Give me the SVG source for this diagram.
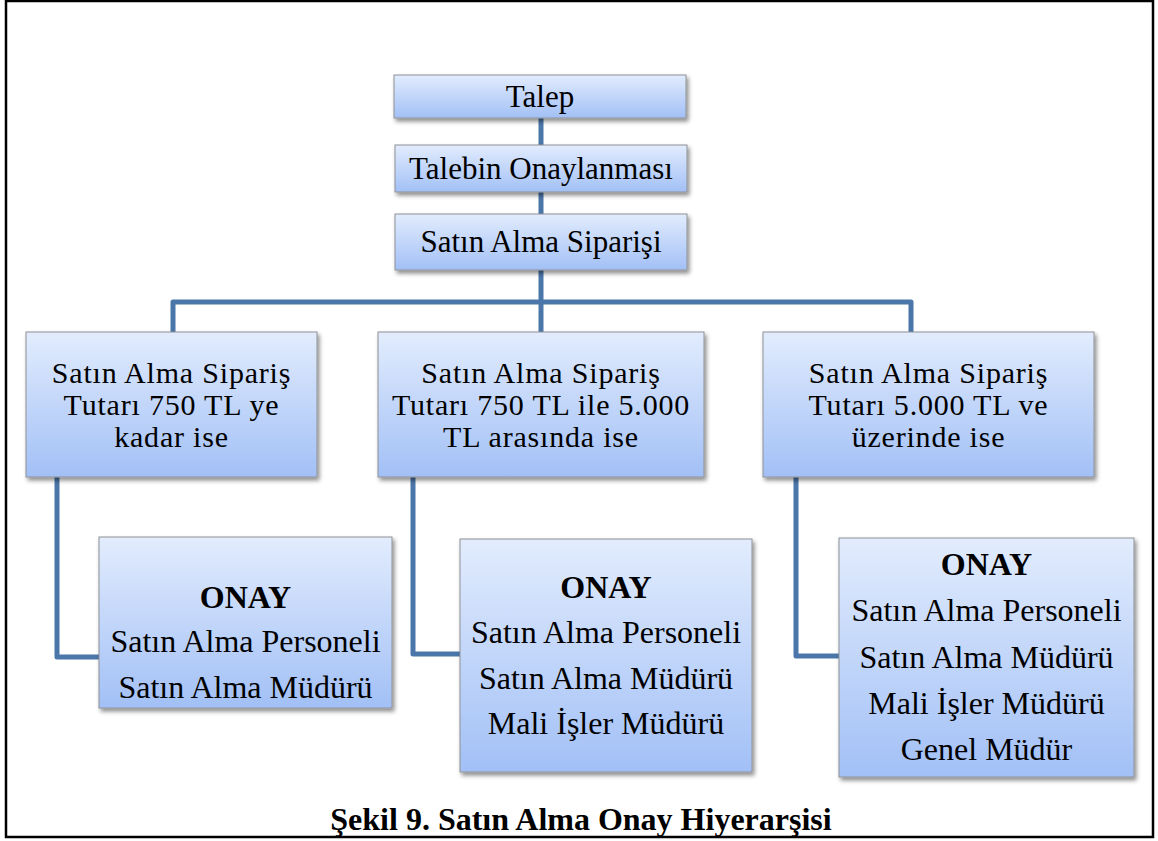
<svg xmlns="http://www.w3.org/2000/svg" width="1158" height="841" viewBox="0 0 1158 841">
  <defs>
    <linearGradient id="boxFill" x1="0" y1="0" x2="0" y2="1">
      <stop offset="0" stop-color="#e2ecfd"/>
      <stop offset="1" stop-color="#a2c0f6"/>
    </linearGradient>
    <filter id="shadow" x="-10%" y="-10%" width="125%" height="130%">
      <feDropShadow dx="2" dy="3" stdDeviation="2" flood-color="#000" flood-opacity="0.45"/>
    </filter>
  </defs>
  <style>
    .box { fill: url(#boxFill); stroke: #8e9196; stroke-width: 1; filter: url(#shadow); }
    text { font-family: 'Liberation Serif', serif; font-size: 31px; fill: #000; text-anchor: middle; }
    .cond { font-size: 30px; letter-spacing: 0.8px; }
    .appr { font-size: 32px; }
    .bold { font-weight: bold; }
    .caption { font-size: 32px; font-weight: bold; }
    .conn { fill: none; stroke: #4a76a9; stroke-width: 5; stroke-linejoin: round; }
    .frame { fill: none; stroke: #000; stroke-width: 2.5; }
  </style>

  <rect width="1158" height="841" fill="#fff"/>
  <rect class="frame" x="6" y="1" width="1147" height="836"/>

  <!-- connectors -->
  <g id="connectors">
    <path class="conn" d="M541 118 V145"/>
    <path class="conn" d="M541 192 V214"/>
    <path class="conn" d="M541 270 V332"/>
    <path class="conn" d="M173 332 V302 H911 V332"/>
    <path class="conn" d="M57 477 V657 H99"/>
    <path class="conn" d="M413 477 V654 H460"/>
    <path class="conn" d="M796 477 V656 H839"/>
  </g>

  <g font-family="Liberation Serif, serif">
  <g id="talep">
    <rect class="box" x="394" y="75" width="292" height="43"/>
    <text x="540" y="107">Talep</text>
  </g>

  <g id="talebin-onaylanmasi">
    <rect class="box" x="395" y="145" width="292" height="47"/>
    <text x="541" y="179">Talebin Onaylanması</text>
  </g>

  <g id="satin-alma-siparisi">
    <rect class="box" x="395" y="214" width="292" height="56"/>
    <text x="541" y="252">Satın Alma Siparişi</text>
  </g>

  <g id="tutar-750">
    <rect class="box" x="26" y="332" width="291" height="145"/>
    <text class="cond" x="171.5" y="383">Satın Alma Sipariş</text>
    <text class="cond" x="171.5" y="415">Tutarı 750 TL ye</text>
    <text class="cond" x="171.5" y="447">kadar ise</text>
  </g>

  <g id="tutar-750-5000">
    <rect class="box" x="378" y="332" width="326" height="145"/>
    <text class="cond" x="541" y="383">Satın Alma Sipariş</text>
    <text class="cond" x="541" y="415">Tutarı 750 TL ile 5.000</text>
    <text class="cond" x="541" y="447">TL arasında ise</text>
  </g>

  <g id="tutar-5000">
    <rect class="box" x="763" y="332" width="331" height="145"/>
    <text class="cond" x="928.5" y="383">Satın Alma Sipariş</text>
    <text class="cond" x="928.5" y="415">Tutarı 5.000 TL ve</text>
    <text class="cond" x="928.5" y="447">üzerinde ise</text>
  </g>

  <g id="onay-1">
    <rect class="box" x="99" y="537" width="293" height="171"/>
    <text class="appr bold" x="245.5" y="608">ONAY</text>
    <text class="appr" x="245.5" y="652">Satın Alma Personeli</text>
    <text class="appr" x="245.5" y="698">Satın Alma Müdürü</text>
  </g>

  <g id="onay-2">
    <rect class="box" x="460" y="539" width="292" height="233"/>
    <text class="appr bold" x="606" y="598">ONAY</text>
    <text class="appr" x="606" y="643">Satın Alma Personeli</text>
    <text class="appr" x="606" y="689">Satın Alma Müdürü</text>
    <text class="appr" x="606" y="734">Mali İşler Müdürü</text>
  </g>

  <g id="onay-3">
    <rect class="box" x="839" y="538" width="295" height="239"/>
    <text class="appr bold" x="986.5" y="575">ONAY</text>
    <text class="appr" x="986.5" y="621">Satın Alma Personeli</text>
    <text class="appr" x="986.5" y="668">Satın Alma Müdürü</text>
    <text class="appr" x="986.5" y="714">Mali İşler Müdürü</text>
    <text class="appr" x="986.5" y="760">Genel Müdür</text>
  </g>

  <text class="caption" x="581" y="830">Şekil 9. Satın Alma Onay Hiyerarşisi</text>
  </g>
</svg>
